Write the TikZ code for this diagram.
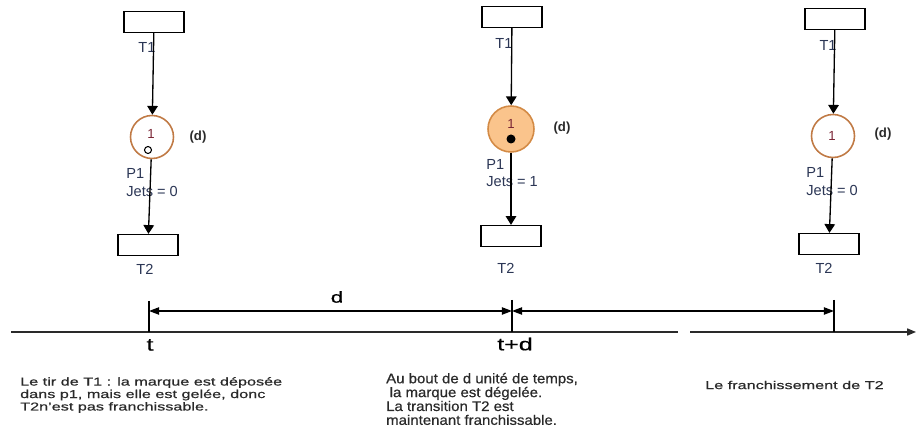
\documentclass[tikz,border=0pt]{standalone}
\usepackage{fontspec}
\setmainfont{Liberation Sans}
\newfontfamily\widefont[FakeStretch=1.42, FakeBold=0.6]{Liberation Sans}
\newfontfamily\midfont[FakeStretch=1.08, FakeBold=0.6]{Liberation Sans}
\usetikzlibrary{arrows.meta}

\definecolor{placeline}{HTML}{C07A45}
\definecolor{placefill}{HTML}{FAC48C}
\definecolor{placeedge}{HTML}{D38A45}
\definecolor{labelblue}{HTML}{2B3655}
\definecolor{markred}{HTML}{7A2535}
\definecolor{textgray}{HTML}{2A2A2A}

\begin{document}
\begin{tikzpicture}[x=0.02cm, y=-0.02cm,
    trans/.style = {rectangle,
      draw = black,
      line width = 0.7pt,
      minimum width = 1.2cm,
      minimum height = 0.42cm},
    place/.style = {circle,
      draw = placeline,
      line width = 0.9pt,
      minimum size = 0.86cm,
      inner sep = 0pt},
    lab/.style = {font = \fontsize{8.3}{9}\selectfont, text = labelblue, inner sep = 0pt},
    arc/.style = {-{Triangle[length=5pt, width=6pt]}, line width = 0.75pt},
    dim/.style = {{Triangle[length=5.8pt, width=4.2pt]}-{Triangle[length=5.8pt, width=4.2pt]}, line width = 0.75pt},
  ]
  \useasboundingbox (0,0) rectangle (916,431);

% first column
  \node[trans] (t1a) at (154,22) {};
  \node[place] (p1a) at (152,137) {};
  \node[trans] (t2a) at (148,245) {};
  \node[lab] (t1alab) at (147,47) {T1};
  \node[font = \fontsize{7.5}{9}\selectfont, text = markred] (n1a) at (151,134) {1};
  \draw[line width = 0.6pt] (148,150) circle (3.5);
  \node[font = \bfseries\fontsize{7.5}{9}\selectfont, text = textgray] (da) at (198,137) {(d)};
  \node[lab, anchor = west] (pa) at (126,173) {P1};
  \node[lab, anchor = west] (ja) at (126,191) {Jets = 0};
  \node[lab] (t2alab) at (145,269) {T2};
  \draw[arc] (t1a) -- (p1a);
  \draw[arc] (p1a) -- (t2a);

% second column
  \node[trans] (t1b) at (512,17) {};
  \node[place,
      draw = placeedge,
      fill = placefill,
      minimum size = 0.92cm] (p1b) at (511,129) {};
  \node[trans] (t2b) at (511,236) {};
  \node[lab] (t1blab) at (504,43) {T1};
  \node[font = \fontsize{7.5}{9}\selectfont, text = markred] (n1b) at (511,124) {1};
  \fill (511,139) circle (4.5);
  \node[font = \bfseries\fontsize{7.5}{9}\selectfont, text = textgray] (db) at (562,128) {(d)};
  \node[lab, anchor = west] (pb) at (486,164) {P1};
  \node[lab, anchor = west] (jb) at (486,182) {Jets = 1};
  \node[lab] (t2blab) at (506,268) {T2};
  \draw[arc] (t1b) -- (p1b);
  \draw[arc] (p1b) -- (t2b);

% third column
  \node[trans] (t1c) at (835,19) {};
  \node[place] (p1c) at (833,136) {};
  \node[trans] (t2c) at (829,244) {};
  \node[lab] (t1clab) at (828,45) {T1};
  \node[font = \fontsize{7.5}{9}\selectfont, text = markred] (n1c) at (832,136) {1};
  \node[font = \bfseries\fontsize{7.5}{9}\selectfont, text = textgray] (dc) at (883,134) {(d)};
  \node[lab, anchor = west] (pc) at (806,172) {P1};
  \node[lab, anchor = west] (jc) at (806,190) {Jets = 0};
  \node[lab] (t2clab) at (824,268) {T2};
  \draw[arc] (t1c) -- (p1c);
  \draw[arc] (p1c) -- (t2c);

% time axis
  \coordinate (axl) at (11,332);
  \coordinate (gapl) at (678,332);
  \coordinate (gapr) at (690,332);
  \coordinate (axr) at (916,332);
  \draw[line width = 0.7pt, draw = textgray] (axl) -- (gapl);
  \draw[line width = 0.7pt, draw = textgray, -{Triangle[length=5pt, width=4pt]}] (gapr) -- (axr);

  \coordinate (ta) at (149,301);
  \coordinate (tab) at (149,332);
  \coordinate (tb) at (512,300);
  \coordinate (tbb) at (512,332);
  \coordinate (tc) at (834,300);
  \coordinate (tcb) at (834,332);
  \draw[line width = 0.8pt] (ta) -- (tab);
  \draw[line width = 0.8pt] (tb) -- (tbb);
  \draw[line width = 0.8pt] (tc) -- (tcb);

  \coordinate (da1) at (149,311);
  \coordinate (db1) at (512,311);
  \coordinate (dc1) at (834,311);
  \draw[dim] (da1) -- (db1);
  \draw[dim] (db1) -- (dc1);

  \node[font = \widefont\fontsize{9}{10}\selectfont] (dlab) at (337,297) {d};
  \node[font = \widefont\fontsize{10}{11}\selectfont] (tlab) at (150,345) {t};
  \node[font = \widefont\fontsize{10}{11}\selectfont] (tdlab) at (515,344) {t+d};

% comments under the axis
  \node[anchor = west, align = left, text = textgray,
      font = \widefont\fontsize{6.5}{7.1}\selectfont] (txta) at (14,395)
      {Le tir de T1 : la marque est déposée\\
       dans p1, mais elle est gelée, donc\\
       T2n’est pas franchissable.};
  \node[anchor = west, align = left, text = textgray,
      font = \midfont\fontsize{7.9}{7.9}\selectfont] (txtb) at (380,399)
      {Au bout de d unité de temps,\\
       \hspace{2pt}la marque est dégelée.\\
       La transition T2 est\\
       maintenant franchissable.};
  \node[anchor = west, text = textgray,
      font = \widefont\fontsize{6.5}{7.1}\selectfont] (txtc) at (699,385)
      {Le franchissement de T2};
\end{tikzpicture}
\end{document}
